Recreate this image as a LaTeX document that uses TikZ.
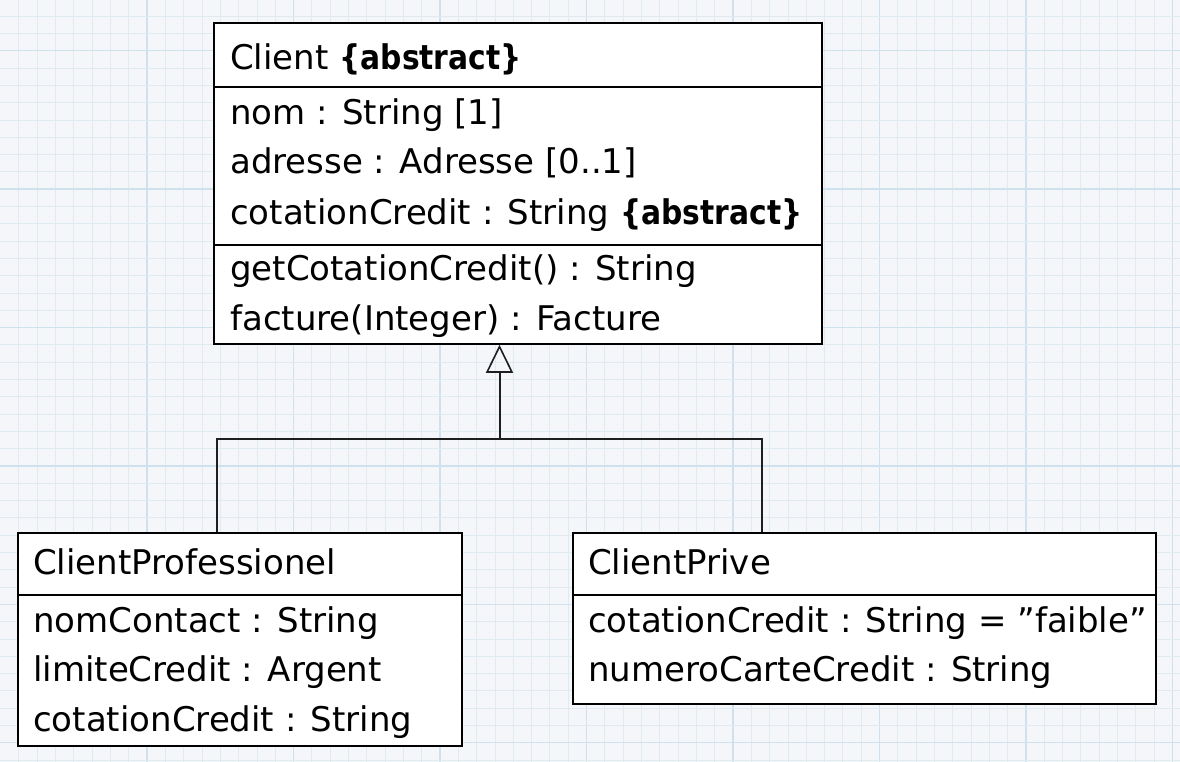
\documentclass[tikz,border=0pt]{standalone}
\usepackage{graphicx}
\usepackage{fontspec}
\setmainfont{DejaVu Sans}
\usetikzlibrary{arrows.meta,calc}
\definecolor{bgc}{RGB}{244,246,249}
\definecolor{minorc}{RGB}{224,235,241}
\definecolor{majorc}{RGB}{206,225,236}
\definecolor{connc}{RGB}{30,30,30}
\newcommand{\abstr}{\scalebox{0.875}[1]{\bfseries\{abstract\}}}
\begin{document}
\begin{tikzpicture}[x=1pt,y=-1pt,
  umlbox/.style={draw=black, line width=1.8pt, fill=white, inner sep=0pt, anchor=north west},
  divider/.style={draw=black, line width=1.6pt},
  txt/.style={anchor=base west, inner sep=0pt, font=\fontsize{34}{38}\selectfont},
  conn/.style={draw=connc, line width=2pt},
  gen/.style={-{Triangle[open, length=28pt, width=27pt, line width=1.6pt]}}
]
\useasboundingbox (0,0) rectangle (1180,762);
\fill[bgc] (0,0) rectangle (1180,762);
% graph paper
\foreach \i in {0,...,63} {
  \pgfmathsetmacro{\xx}{18.83+18.31*\i}
  \pgfmathtruncatemacro{\m}{mod(\i,8)}
  \ifnum\m=7
    \draw[majorc, line width=1.4pt] (\xx,0) -- (\xx,762);
  \else
    \draw[minorc, line width=0.7pt] (\xx,0) -- (\xx,762);
  \fi
}
\foreach \j in {0,...,43} {
  \pgfmathsetmacro{\yy}{16.1+17.3*\j}
  \pgfmathtruncatemacro{\m}{mod(\j,8)}
  \ifnum\m=2
    \draw[majorc, line width=1.4pt] (0,\yy) -- (1180,\yy);
  \else
    \draw[minorc, line width=0.7pt] (0,\yy) -- (1180,\yy);
  \fi
}

% Client
\node[umlbox, minimum width=608pt, minimum height=321pt] (client) at (213,22) {};
\draw[divider] ($(client.north west)+(0,65)$) -- ($(client.north east)+(0,65)$);
\draw[divider] ($(client.north west)+(0,223)$) -- ($(client.north east)+(0,223)$);
\node[txt] (c0) at (230,70) {Client \abstr};
\node[txt] (c1) at (230,125) {nom : String [1]};
\node[txt] (c2) at (230,174) {adresse : Adresse [0..1]};
\node[txt] (c3) at (230,224) {cotationCredit : String \abstr};
\node[txt] (c4) at (230,280) {getCotationCredit() : String};
\node[txt] (c5) at (230,330) {facture(Integer) : Facture};

% ClientProfessionel
\node[umlbox, minimum width=444pt, minimum height=213pt] (pro) at (17,532) {};
\draw[divider] ($(pro.north west)+(0,63)$) -- ($(pro.north east)+(0,63)$);
\node[txt] (p0) at (33,574) {ClientProfessionel};
\node[txt] (p1) at (33,632) {nomContact : String};
\node[txt] (p2) at (33,681) {limiteCredit : Argent};
\node[txt] (p3) at (33,731) {cotationCredit : String};

% ClientPrive
\node[umlbox, minimum width=583pt, minimum height=171pt] (prive) at (572,532) {};
\draw[divider] ($(prive.north west)+(0,63)$) -- ($(prive.north east)+(0,63)$);
\node[txt] (v0) at (588,574) {ClientPrive};
\node[txt] (v1) at (588,632) {cotationCredit : String = "faible"};
\node[txt] (v2) at (588,681) {numeroCarteCredit : String};

% generalization
\coordinate (pt) at ($(pro.north west)+(200,0)$);
\coordinate (vt) at ($(prive.north west)+(190,0)$);
\coordinate (bar) at (499.5,439);
\draw[conn] (pt) |- (bar) -| (vt);
\draw[conn, gen] (bar) -- (bar |- client.south);
\end{tikzpicture}
\end{document}
